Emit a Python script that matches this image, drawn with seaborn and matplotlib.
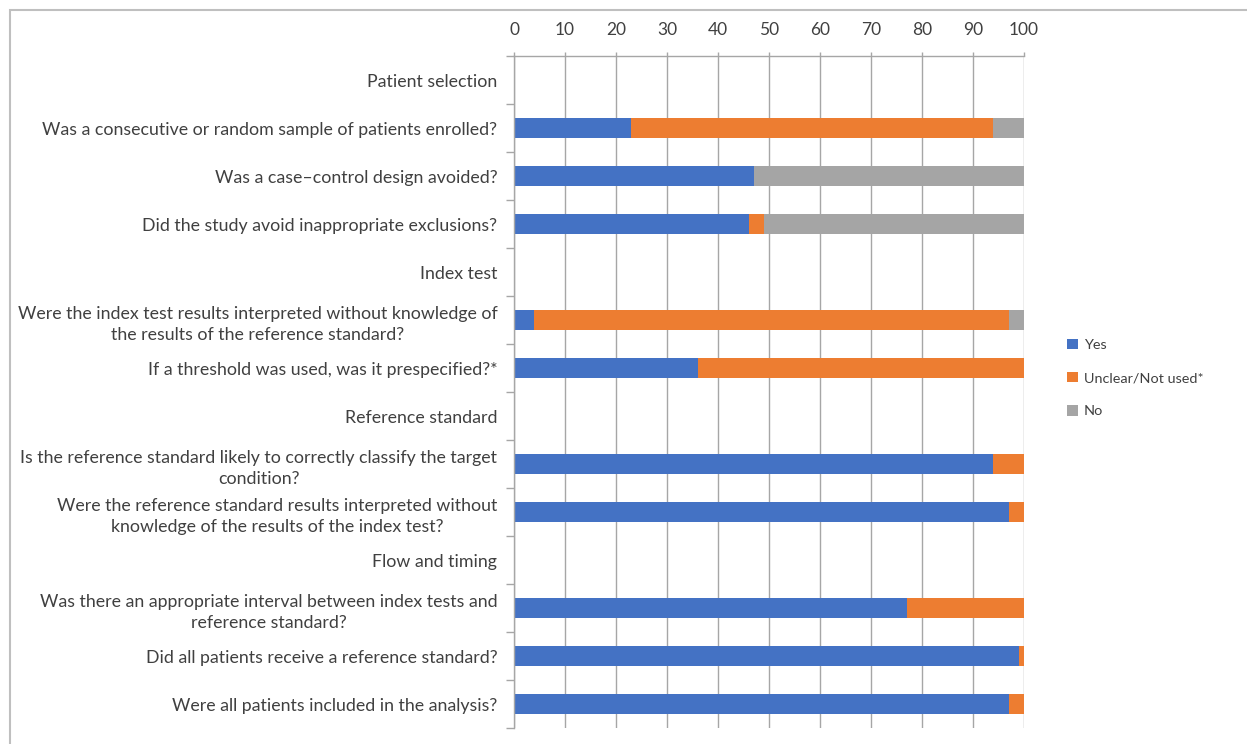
import numpy as np
import pandas as pd
import matplotlib
matplotlib.use("Agg")
import matplotlib.pyplot as plt
from matplotlib.patches import Patch, Rectangle
import seaborn as sns

categories = [
    "Patient selection",
    "Was a consecutive or random sample of patients enrolled?",
    "Was a case\u2013control design avoided?",
    "Did the study avoid inappropriate exclusions?",
    "Index test",
    "Were the index test results interpreted without knowledge of\nthe results of the reference standard?",
    "If a threshold was used, was it prespecified?*",
    "Reference standard",
    "Is the reference standard likely to correctly classify the target\ncondition?",
    "Were the reference standard results interpreted without\nknowledge of the results of the index test?",
    "Flow and timing",
    "Was there an appropriate interval between index tests and\nreference standard?",
    "Did all patients receive a reference standard?",
    "Were all patients included in the analysis?",
]
yes = [0, 23, 47, 46, 0, 4, 36, 0, 94, 97, 0, 77, 99, 97]
unclear = [0, 71, 0, 3, 0, 93, 64, 0, 6, 3, 0, 23, 1, 3]
no = [0, 6, 53, 51, 0, 3, 0, 0, 0, 0, 0, 0, 0, 0]
series_names = ["Yes", "Unclear/Not used*", "No"]
colors = ["#4472C4", "#ED7D31", "#A5A5A5"]
xticks = list(range(0, 101, 10))

sns.set_theme(style="white")
plt.rcParams["font.family"] = ["Lato", "DejaVu Sans"]
text_color = "#404040"
grid_color = "#A6A6A6"
fs = 12.8
fs_x = 12.5
fs_leg = 10.4

W, H = 1247, 744
fig = plt.figure(figsize=(W / 100, H / 100), dpi=100)
ax = fig.add_axes([514 / W, 1 - 728 / H, (1024 - 514) / W, (728 - 56) / H])

df = pd.DataFrame({"cat": categories, "Yes": yes, "Unclear": unclear, "No": no})
df["c2"] = df["Yes"] + df["Unclear"]
df["c3"] = df["c2"] + df["No"]

for col, color in [("c3", colors[2]), ("c2", colors[1]), ("Yes", colors[0])]:
    sns.barplot(data=df, x=col, y="cat", order=categories, color=color,
                width=0.4, ax=ax, linewidth=0, saturation=1, orient="h",
                errorbar=None)

ax.set_xlim(0, 100)
ax.set_ylim(len(categories) - 0.5, -0.5)
ax.xaxis.tick_top()
ax.set_xticks(xticks)
ax.set_xticklabels([str(t) for t in xticks])
ax.grid(axis="x", color=grid_color, lw=1)
ax.grid(axis="y", visible=False)
ax.set_axisbelow(True)
ax.set_xlabel("")
ax.set_ylabel("")

ax.set_yticks(range(len(categories)))
ax.set_yticklabels(categories, multialignment="center", linespacing=1.4)
ax.set_yticks(np.arange(-0.5, len(categories), 1), minor=True)
ax.tick_params(axis="y", which="major", length=0, pad=12, labelsize=fs, labelcolor=text_color)
ax.tick_params(axis="y", which="minor", length=5.5, width=1, color=grid_color, direction="out", left=True)
ax.tick_params(axis="x", which="major", length=3, width=1, color=grid_color, direction="out",
               top=True, bottom=False, pad=10, labelsize=fs_x, labelcolor=text_color)

for s in ["right", "bottom"]:
    ax.spines[s].set_visible(False)
for s in ["left", "top"]:
    ax.spines[s].set_visible(True)
    ax.spines[s].set_color(grid_color)
    ax.spines[s].set_linewidth(1)

handles = [Patch(facecolor=c, edgecolor="none") for c in colors]
fig.legend(handles, series_names, loc="center left",
           bbox_to_anchor=(1054 / W, 1 - 378 / H), frameon=False,
           handlelength=0.75, handleheight=0.75, handletextpad=0.4,
           labelspacing=1.45, fontsize=fs_leg, labelcolor=text_color)

fig.patches.append(Rectangle((10 / W, -0.1), 1.2, (H - 9.5) / H + 0.1,
                             transform=fig.transFigure, fill=False,
                             ec="#BFBFBF", lw=1.5))

fig.savefig("out.png", dpi=100, facecolor="white")
